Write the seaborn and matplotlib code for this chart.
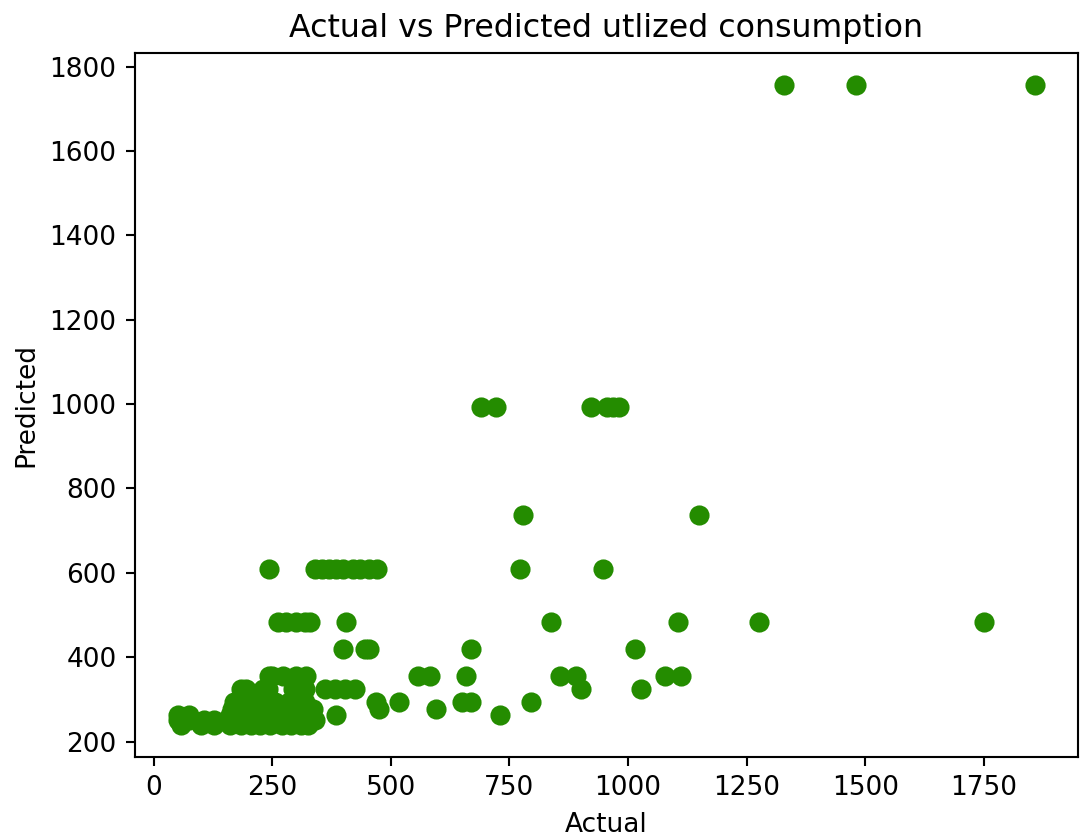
import numpy as np
import pandas as pd
import matplotlib
matplotlib.use("Agg")
import matplotlib.pyplot as plt
import seaborn as sns

# Predicted levels (the model outputs only a few distinct values)
# and the actual values for each level
pred_1757 = [1329, 1481, 1858]
pred_993 = [690, 722, 922, 955, 968, 982]
pred_736 = [778, 1150]
pred_609 = [244, 340, 355, 370, 385, 400, 420, 435, 455, 470, 773, 948]
pred_483 = [262, 280, 300, 318, 330, 406, 837, 1105, 1276, 1751]
pred_420 = [399, 445, 455, 669, 1014]
pred_356 = [244, 250, 272, 300, 321, 557, 582, 659, 856, 890, 1077, 1112]
pred_325 = [185, 195, 230, 240, 293, 300, 318, 362, 383, 404, 425, 901, 1027]
pred_293 = [170, 175, 190, 205, 215, 225, 240, 255, 285, 300, 310, 318,
            469, 518, 649, 669, 796]
pred_277 = [165, 180, 200, 220, 245, 265, 290, 315, 335, 475, 596]
pred_262 = [51, 75, 160, 175, 195, 210, 230, 250, 275, 295, 320, 332,
            385, 731]
pred_250 = [51, 75, 107, 128, 170, 190, 215, 240, 260, 280, 305, 340]
pred_240 = [58, 100, 128, 160, 185, 205, 225, 245, 270, 290, 310, 325]

levels = [1757, 993, 736, 609, 483, 420, 356, 325, 293, 277, 262, 250, 240]
groups = [pred_1757, pred_993, pred_736, pred_609, pred_483, pred_420,
          pred_356, pred_325, pred_293, pred_277, pred_262, pred_250, pred_240]

rows = []
for lvl, xs in zip(levels, groups):
    for x in xs:
        rows.append({"Actual": x, "Predicted": lvl})
df = pd.DataFrame(rows)

point_color = "#248c00"

fig = plt.figure(figsize=(1080 / 190, 838 / 190), dpi=190)
ax = fig.add_axes([0.125, 0.097, 0.873, 0.840])

sns.scatterplot(data=df, x="Actual", y="Predicted", color=point_color,
                edgecolor=point_color, linewidth=1, s=44, ax=ax)

ax.set_title("Actual vs Predicted utlized consumption", fontsize=12)
ax.set_xlabel("Actual")
ax.set_ylabel("Predicted")
ax.set_xticks([0, 250, 500, 750, 1000, 1250, 1500, 1750])
ax.set_yticks([200, 400, 600, 800, 1000, 1200, 1400, 1600, 1800])

fig.savefig("out.png", dpi=190)
